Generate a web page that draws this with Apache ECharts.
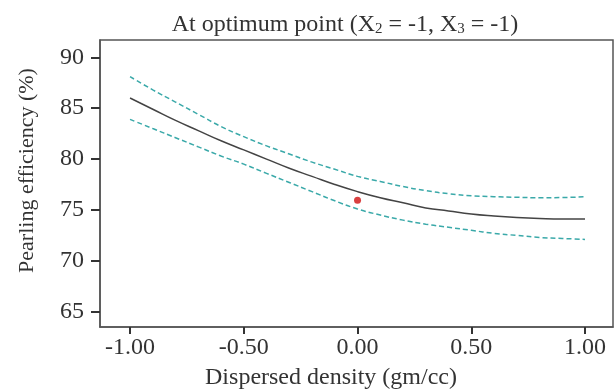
<!DOCTYPE html>
<html>
<head>
<meta charset="utf-8">
<script src="https://cdn.jsdelivr.net/npm/echarts@6/dist/echarts.min.js"></script>
<style>
  html, body { margin: 0; padding: 0; background: #fff; }
  #main { width: 616px; height: 391px; }
</style>
</head>
<body>
<div id="main"></div>
<script>
var xs = [-1.0, -0.9, -0.8, -0.7, -0.6, -0.5, -0.4, -0.3, -0.2, -0.1, 0.0,
  0.1, 0.2, 0.3, 0.4, 0.5, 0.6, 0.7, 0.8, 0.9, 1.0];
var fitted = [86.0, 84.9, 83.8, 82.8, 81.8, 80.9, 80.0, 79.1, 78.3, 77.5, 76.8,
  76.2, 75.7, 75.2, 74.9, 74.6, 74.4, 74.25, 74.15, 74.1, 74.12];
var upper = [88.1, 86.8, 85.6, 84.4, 83.2, 82.2, 81.3, 80.5, 79.7, 79.0, 78.3,
  77.8, 77.3, 76.9, 76.6, 76.4, 76.3, 76.25, 76.2, 76.22, 76.3];
var lower = [83.9, 83.0, 82.1, 81.2, 80.3, 79.5, 78.6, 77.7, 76.8, 75.9, 75.1,
  74.5, 74.0, 73.6, 73.3, 73.0, 72.7, 72.5, 72.3, 72.2, 72.1];
var optimum = [0.0, 75.95];
// axis ranges (ticks fall on the nice 0.5 / 5 steps inside them)
var xRange = [-1.132, 1.123];
var yRange = [63.5, 91.7];

function pairs(ys) {
  return xs.map(function (x, i) { return [x, ys[i]]; });
}

var font = 'Liberation Serif';
var chart = echarts.init(document.getElementById('main'));
chart.setOption({
  animation: false,
  textStyle: { fontFamily: font },
  title: [{
    text: 'At optimum point (X{sub|2} = -1, X{sub|3} = -1)',
    left: 340,
    top: 7,
    textAlign: 'center',
    textStyle: {
      fontFamily: font, fontSize: 24, fontWeight: 'normal', color: '#333',
      rich: { sub: { fontFamily: font, fontSize: 15, color: '#333', padding: [10, 0, 0, 0] } }
    }
  }, {
    text: 'Dispersed density (gm/cc)',
    left: 326,
    top: 361,
    textAlign: 'center',
    textStyle: { fontFamily: font, fontSize: 24, fontWeight: 'normal', color: '#333' }
  }],
  grid: {
    left: 100, top: 40, right: 3, bottom: 64,
    show: true, borderColor: '#555', borderWidth: 1.5
  },
  xAxis: {
    type: 'value',
    min: xRange[0], max: xRange[1],
    splitNumber: 5,
    splitLine: { show: false },
    axisLine: { show: true, onZero: false, lineStyle: { color: '#555', width: 1.5 } },
    axisTick: { show: true, length: 7, lineStyle: { color: '#333', width: 2 } },
    axisLabel: {
      showMinLabel: false, showMaxLabel: false,
      fontSize: 24, color: '#333', margin: 9, fontFamily: font,
      formatter: function (v) { return v.toFixed(2); }
    }
  },
  yAxis: {
    type: 'value',
    min: yRange[0], max: yRange[1],
    splitNumber: 5,
    name: 'Pearling efficiency (%)',
    nameLocation: 'middle',
    nameGap: 62,
    nameTextStyle: { fontSize: 22, color: '#333', fontFamily: font, padding: [0, 0, 0, 26] },
    splitLine: { show: false },
    axisLine: { show: true, onZero: false, lineStyle: { color: '#555', width: 1.5 } },
    axisTick: { show: true, length: 9, lineStyle: { color: '#333', width: 2 } },
    axisLabel: {
      showMinLabel: false, showMaxLabel: false,
      fontSize: 24, color: '#333', margin: 16, fontFamily: font
    }
  },
  series: [{
    name: 'Upper',
    type: 'line',
    data: pairs(upper),
    smooth: true,
    symbol: 'none',
    lineStyle: { color: '#3aa9a9', width: 1.5, type: [5, 3] }
  }, {
    name: 'Fitted',
    type: 'line',
    data: pairs(fitted),
    smooth: true,
    symbol: 'none',
    lineStyle: { color: '#444', width: 1.5 }
  }, {
    name: 'Lower',
    type: 'line',
    data: pairs(lower),
    smooth: true,
    symbol: 'none',
    lineStyle: { color: '#3aa9a9', width: 1.5, type: [5, 3] }
  }, {
    name: 'Optimum',
    type: 'scatter',
    data: [optimum],
    symbol: 'circle',
    symbolSize: 7,
    itemStyle: { color: '#d01010' }
  }]
});
</script>
</body>
</html>
